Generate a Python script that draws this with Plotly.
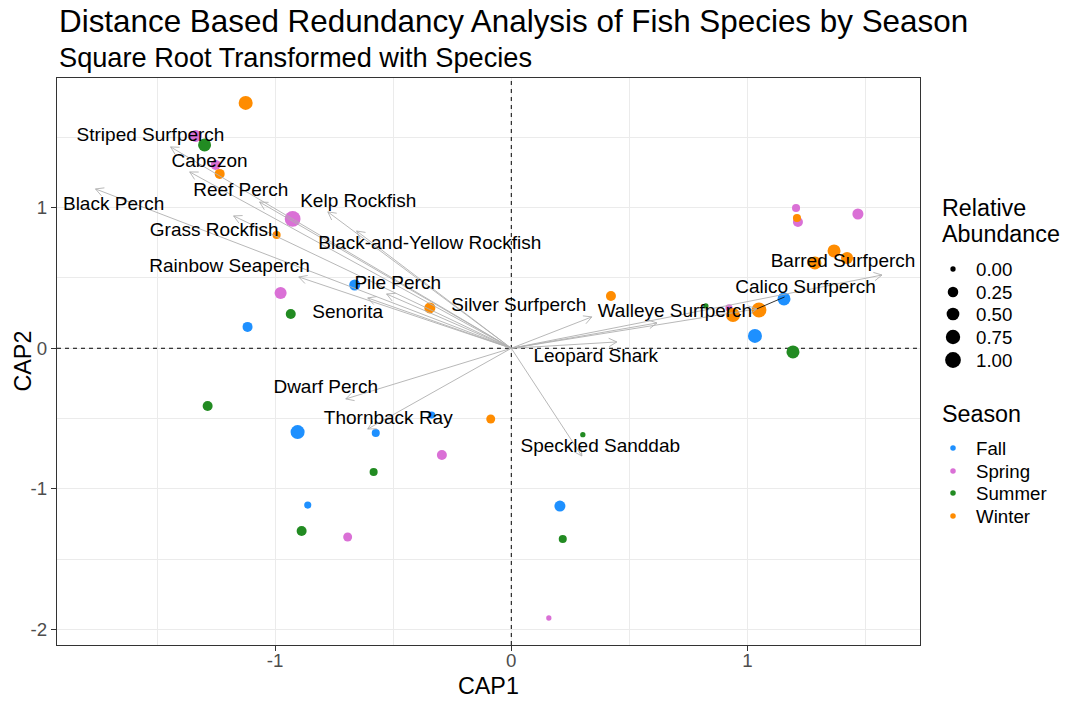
import math
import plotly.graph_objects as go

# ---------------- data ----------------
seasons = ["Fall", "Spring", "Summer", "Winter"]
season_colors = ["#1E90FF", "#DA70D6", "#228B22", "#FF8C00"]

fall_cap1 = [-1.117, -0.663, -0.905, -0.574, -0.337, -0.862, 0.206, 1.155, 1.032]
fall_cap2 = [0.152, 0.450, -0.596, -0.603, -0.475, -1.115, -1.122, 0.351, 0.088]
fall_abund = [0.20, 0.30, 0.69, 0.07, 0.03, 0.03, 0.30, 0.54, 0.69]

spring_cap1 = [-1.337, -1.252, -0.926, -0.977, -0.294, -0.693, 0.159, 1.206, 1.214, 1.468, 0.922]
spring_cap2 = [1.510, 1.304, 0.920, 0.393, -0.759, -1.342, -1.918, 0.998, 0.898, 0.955, 0.287]
spring_abund = [0.41, 0.20, 1.00, 0.41, 0.20, 0.12, 0.00, 0.07, 0.20, 0.30, 0.03]

summer_cap1 = [-1.299, -0.934, -1.286, -0.583, -0.888, 0.303, 0.218, 0.824, 1.193]
summer_cap2 = [1.446, 0.244, -0.410, -0.880, -1.299, -0.614, -1.356, 0.301, -0.026]
summer_abund = [0.54, 0.20, 0.20, 0.07, 0.20, 0.00, 0.07, 0.00, 0.54]

winter_cap1 = [-1.125, -1.235, -0.994, -0.345, 0.422, -0.087, 0.939, 1.049, 1.286, 1.367, 1.422, 1.210]
winter_cap2 = [1.745, 1.240, 0.806, 0.287, 0.372, -0.503, 0.237, 0.272, 0.607, 0.692, 0.642, 0.927]
winter_abund = [0.69, 0.20, 0.07, 0.30, 0.20, 0.12, 0.69, 0.85, 0.54, 0.54, 0.41, 0.07]

species = ["Striped Surfperch", "Cabezon", "Black Perch", "Reef Perch", "Grass Rockfish",
           "Kelp Rockfish", "Black-and-Yellow Rockfish", "Rainbow Seaperch", "Pile Perch",
           "Senorita", "Silver Surfperch", "Walleye Surfperch", "Leopard Shark",
           "Calico Surfperch", "Barred Surfperch", "Speckled Sanddab", "Dwarf Perch",
           "Thornback Ray"]
species_cap1 = [-1.443, -1.362, -1.761, -1.066, -1.176, -0.777, -0.655, -0.900, -0.528,
                -0.608, 0.341, 0.617, 0.447, 1.040, 1.570, 0.299, -0.701, -0.608]
species_cap2 = [1.432, 1.254, 1.133, 1.040, 0.941, 0.970, 0.834, 0.507, 0.386,
                0.358, 0.223, 0.180, 0.045, 0.280, 0.521, -0.766, -0.360, -0.574]
label_cap1 = [-1.528, -1.278, -1.684, -1.146, -1.258, -0.648, -0.345, -1.193, -0.481,
              -0.693, 0.032, 0.693, 0.358, 1.246, 1.405, 0.377, -0.786, -0.521]
label_cap2 = [1.510, 1.325, 1.020, 1.119, 0.834, 1.041, 0.742, 0.578, 0.457,
              0.251, 0.301, 0.258, -0.062, 0.429, 0.614, -0.702, -0.282, -0.503]
connector_species = ["Calico Surfperch"]

size_breaks = [0.00, 0.25, 0.50, 0.75, 1.00]
size_labels = ["0.00", "0.25", "0.50", "0.75", "1.00"]

x_ticks = [-1, 0, 1]
x_ticktext = ["-1", "0", "1"]
y_ticks = [-2, -1, 0, 1]
y_ticktext = ["-2", "-1", "0", "1"]

# ---------------- layout geometry ----------------
W, H = 1080, 704
ML, MR, MT, MB = 57, 0, 78, 59
PANEL_W = 863
PAPER_W = W - ML - MR
PANEL_H = H - MT - MB
DX = PANEL_W / PAPER_W
xr = [-1.924, 1.731]
yr = [-2.110, 1.922]
kx = PANEL_W / (xr[1] - xr[0])
ky = PANEL_H / (yr[1] - yr[0])

FONT = "Liberation Sans, Arial, sans-serif"


def dot_size(v):
    return 5.3 + 10.5 * math.sqrt(max(v, 0.0))


fig = go.Figure()

# dashed reference lines (behind points)
fig.add_trace(go.Scatter(x=[0, 0, None, xr[0], xr[1]], y=[yr[0], yr[1], None, 0, 0],
                         mode="lines", showlegend=False, hoverinfo="skip", cliponaxis=True,
                         line=dict(color="black", width=1, dash="4px,4px")))

# points
season_data = [(fall_cap1, fall_cap2, fall_abund), (spring_cap1, spring_cap2, spring_abund),
               (summer_cap1, summer_cap2, summer_abund), (winter_cap1, winter_cap2, winter_abund)]
for name, col, (xs, ys, ab) in zip(seasons, season_colors, season_data):
    fig.add_trace(go.Scatter(x=xs, y=ys, mode="markers", name=name, showlegend=False,
                             marker=dict(color=col, size=[dot_size(a) for a in ab],
                                         opacity=1, line=dict(width=0)),
                             hoverinfo="skip"))

# arrows
HL = 9.0
ANG = math.radians(28)
axs, ays = [], []
for tx, ty in zip(species_cap1, species_cap2):
    axs += [0, tx, None]
    ays += [0, ty, None]
    ux, uy = tx * kx, ty * ky
    n = math.hypot(ux, uy)
    ux, uy = ux / n, uy / n
    wing = []
    for s in (1, -1):
        a = s * ANG
        rx = ux * math.cos(a) - uy * math.sin(a)
        ry = ux * math.sin(a) + uy * math.cos(a)
        wing.append((tx - HL * rx / kx, ty - HL * ry / ky))
    axs += [wing[0][0], tx, wing[1][0], None]
    ays += [wing[0][1], ty, wing[1][1], None]
fig.add_trace(go.Scatter(x=axs, y=ays, mode="lines", showlegend=False, hoverinfo="skip",
                         line=dict(color="#B0B0B0", width=0.9)))

# connectors (ggrepel style)
cx, cy = [], []
for sp, tx, ty, lx, ly in zip(species, species_cap1, species_cap2, label_cap1, label_cap2):
    if sp in connector_species:
        hh = 9.0 / ky
        edge = ly - hh if ly > ty else ly + hh
        t = (edge - ty) / (ly - ty)
        cx += [tx, tx + t * (lx - tx), None]
        cy += [ty, edge, None]
fig.add_trace(go.Scatter(x=cx, y=cy, mode="lines", showlegend=False, hoverinfo="skip",
                         line=dict(color="black", width=0.8)))

# labels
fig.add_trace(go.Scatter(x=label_cap1, y=label_cap2, mode="text", text=species,
                         textposition="middle center", showlegend=False, hoverinfo="skip",
                         textfont=dict(family=FONT, size=19, color="black")))

# ---------------- manual legend on hidden axes (pixel space) ----------------
LEG_DOT_X = 953
LEG_TXT_X = 974
LEG_TITLE_X = 940
size_rows = [269, 292, 314, 337, 360]
season_rows = [448, 471, 493, 516]

fig.add_trace(go.Scatter(x=[LEG_DOT_X] * len(size_breaks), y=size_rows, mode="markers",
                         xaxis="x2", yaxis="y2", showlegend=False, hoverinfo="skip",
                         marker=dict(color="black", size=[dot_size(v) for v in size_breaks],
                                     opacity=1, line=dict(width=0))))
fig.add_trace(go.Scatter(x=[LEG_DOT_X] * len(seasons), y=season_rows, mode="markers",
                         xaxis="x2", yaxis="y2", showlegend=False, hoverinfo="skip",
                         marker=dict(color=season_colors, size=5.5, opacity=1,
                                     line=dict(width=0))))

annotations = []
for lab, yy in zip(size_labels, size_rows):
    annotations.append(dict(xref="x2", yref="y2", x=LEG_TXT_X, y=yy, text=lab, showarrow=False,
                            xanchor="left", yanchor="middle",
                            font=dict(family=FONT, size=18.7, color="black")))
for lab, yy in zip(seasons, season_rows):
    annotations.append(dict(xref="x2", yref="y2", x=LEG_TXT_X, y=yy, text=lab, showarrow=False,
                            xanchor="left", yanchor="middle",
                            font=dict(family=FONT, size=18.7, color="black")))
for lab, yy in [("Relative", 208), ("Abundance", 234), ("Season", 414)]:
    annotations.append(dict(xref="x2", yref="y2", x=LEG_TITLE_X, y=yy, text=lab, showarrow=False,
                            xanchor="left", yanchor="middle",
                            font=dict(family=FONT, size=23.3, color="black")))

# titles
annotations.append(dict(xref="paper", yref="paper", x=0, y=(H - MB - 21) / PANEL_H,
                        text="Distance Based Redundancy Analysis of Fish Species by Season",
                        showarrow=False, xanchor="left", yanchor="middle",
                        font=dict(family=FONT, size=31.4, color="black")))
annotations.append(dict(xref="paper", yref="paper", x=0, y=(H - MB - 57) / PANEL_H,
                        text="Square Root Transformed with Species",
                        showarrow=False, xanchor="left", yanchor="middle",
                        font=dict(family=FONT, size=27.2, color="black")))
annotations.append(dict(xref="paper", yref="paper", x=DX / 2, y=(H - MB - 686) / PANEL_H,
                        text="CAP1", showarrow=False, xanchor="center", yanchor="middle",
                        font=dict(family=FONT, size=23.3, color="black")))
annotations.append(dict(xref="paper", yref="paper", x=(22 - ML) / PAPER_W, y=0.5,
                        text="CAP2", showarrow=False, xanchor="center", yanchor="middle",
                        textangle=-90, font=dict(family=FONT, size=23.3, color="black")))

axis_common = dict(showgrid=True, gridcolor="#EBEBEB", gridwidth=1.2, zeroline=False,
                   ticks="outside", ticklen=5, tickwidth=1, tickcolor="#333333",
                   tickfont=dict(family=FONT, size=18.7, color="#4D4D4D"),
                   showline=True, mirror=True, linecolor="#333333", linewidth=1.2,
                   tickmode="array")

fig.update_layout(
    width=W, height=H,
    margin=dict(l=ML, r=MR, t=MT, b=MB, pad=0),
    paper_bgcolor="white", plot_bgcolor="white",
    font=dict(family=FONT, color="black"),
    showlegend=False,
    xaxis=dict(domain=[0, DX], range=xr, tickvals=x_ticks, ticktext=x_ticktext,
               ticklabelstandoff=-7,
               minor=dict(tickmode="array", tickvals=[-1.5, -0.5, 0.5, 1.5], showgrid=True,
                          gridcolor="#EBEBEB", gridwidth=0.6, ticks=""),
               **axis_common),
    yaxis=dict(domain=[0, 1], range=yr, tickvals=y_ticks, ticktext=y_ticktext,
               minor=dict(tickmode="array", tickvals=[-1.5, -0.5, 0.5, 1.5], showgrid=True,
                          gridcolor="#EBEBEB", gridwidth=0.6, ticks=""),
               **axis_common),
    xaxis2=dict(domain=[DX, 1], range=[ML + PANEL_W, W], visible=False, anchor="y2",
                fixedrange=True),
    yaxis2=dict(domain=[0, 1], range=[H - MB, MT], visible=False, anchor="x2",
                fixedrange=True),
    annotations=annotations,
)

fig.write_html("out.html")
